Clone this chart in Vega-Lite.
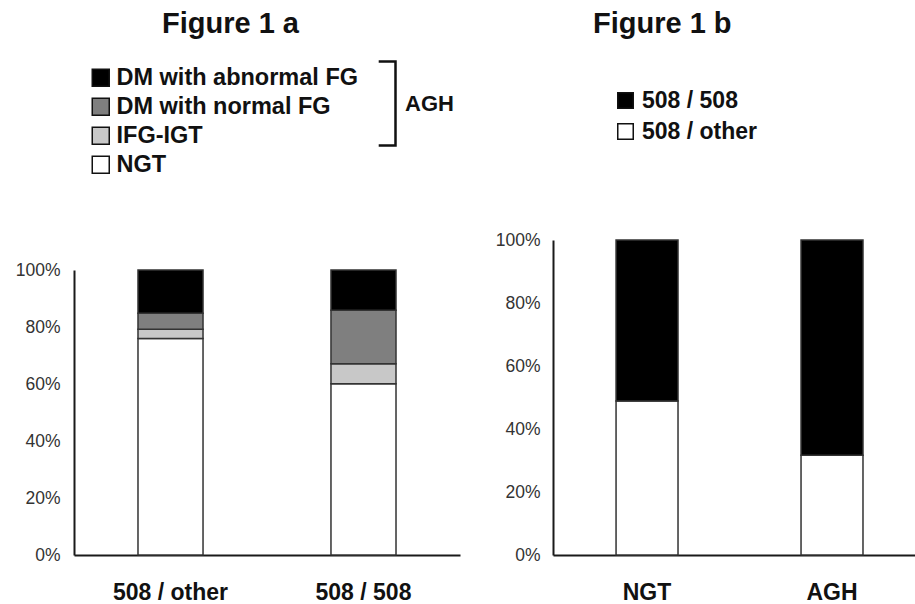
{
  "$schema": "https://vega.github.io/schema/vega-lite/v6.json",
  "autosize": {"type": "pad"},
  "padding": {"left": 15, "top": 10, "right": 0, "bottom": 5},
  "background": "white",
  "config": {
    "font": "Liberation Sans",
    "view": {"stroke": null},
    "axis": {"domainColor": "#1a1a1a", "domainWidth": 2, "ticks": false, "grid": false, "title": null},
    "legend": {"padding": 0, "orient": "none", "labelLimit": 0},
    "concat": {"spacing": 35}
  },
  "datasets": {
    "fig1a": [
      {"genotype": "508 / other", "group": "NGT", "class": "NGT", "percent": 76.0},
      {"genotype": "508 / other", "group": "IFG-IGT", "class": "AGH", "percent": 3.2},
      {"genotype": "508 / other", "group": "DM with normal FG", "class": "AGH", "percent": 5.6},
      {"genotype": "508 / other", "group": "DM with abnormal FG", "class": "AGH", "percent": 15.2},
      {"genotype": "508 / 508", "group": "NGT", "class": "NGT", "percent": 60.1},
      {"genotype": "508 / 508", "group": "IFG-IGT", "class": "AGH", "percent": 7.0},
      {"genotype": "508 / 508", "group": "DM with normal FG", "class": "AGH", "percent": 18.8},
      {"genotype": "508 / 508", "group": "DM with abnormal FG", "class": "AGH", "percent": 14.1}
    ],
    "fig1b": [
      {"status": "NGT", "genotype": "508 / other", "percent": 48.9},
      {"status": "NGT", "genotype": "508 / 508", "percent": 51.1},
      {"status": "AGH", "genotype": "508 / other", "percent": 31.7},
      {"status": "AGH", "genotype": "508 / 508", "percent": 68.3}
    ]
  },
  "resolve": {
    "scale": {"x": "independent", "y": "independent", "color": "independent", "shape": "independent"},
    "legend": {"color": "independent", "shape": "independent"}
  },
  "hconcat": [
    {
      "width": 386,
      "height": 315,
      "title": {"text": "Figure 1 a", "anchor": "start", "frame": "group", "dx": 88, "offset": 21, "fontSize": 29, "fontWeight": "bold", "color": "#111"},
      "data": {"name": "fig1a"},
      "layer": [
        {
          "mark": {"type": "bar", "stroke": "#333", "strokeWidth": 1.5},
          "encoding": {
            "x": {"field": "genotype", "type": "nominal", "sort": ["508 / other", "508 / 508"],
                  "scale": {"paddingInner": 0.663, "paddingOuter": 0.3316},
                  "axis": {"labelAngle": 0, "labelFontSize": 23, "labelFontWeight": "bold", "labelColor": "#111", "labelPadding": 26}},
            "y": {"field": "percent", "type": "quantitative", "stack": "zero",
                  "scale": {"domain": [0, 100], "rangeMax": 30},
                  "axis": {"values": [0, 20, 40, 60, 80, 100], "labelExpr": "datum.value + '%'", "labelFontSize": 17.5, "labelColor": "#333", "labelPadding": 14}},
            "color": {"field": "group", "type": "nominal",
                      "scale": {"domain": ["DM with abnormal FG", "DM with normal FG", "IFG-IGT", "NGT"], "range": ["#000000", "#7f7f7f", "#c8c8c8", "#ffffff"]},
                      "legend": {"title": null, "legendX": 15, "legendY": -174, "symbolType": "square", "symbolSize": 289, "symbolStrokeColor": "#111", "symbolStrokeWidth": 1.5, "labelFontSize": 23.5, "labelFontWeight": "bold", "labelColor": "#111", "labelOffset": 4, "rowPadding": 4}},
            "order": {"field": "group", "sort": "descending"}
          }
        },
        {
          "transform": [{"filter": "datum.class === 'AGH'"}],
          "mark": {"type": "point", "opacity": 0},
          "encoding": {
            "x": {"field": "genotype", "type": "nominal", "sort": ["508 / other", "508 / 508"]},
            "y": {"field": "percent", "type": "quantitative"},
            "shape": {"field": "class", "type": "nominal",
                      "scale": {"range": ["M0.6,-1H1V1H0.6"]},
                      "legend": {"title": null, "legendX": 236, "legendY": -180, "symbolSize": 7056, "symbolStrokeColor": "#111", "symbolStrokeWidth": 2.5, "symbolFillColor": "transparent", "symbolOpacity": 1, "labelFontSize": 22, "labelFontWeight": "bold", "labelColor": "#111", "labelOffset": 8}}
          }
        }
      ]
    },
    {
      "width": 362,
      "height": 315,
      "title": {"text": "Figure 1 b", "anchor": "start", "frame": "group", "dx": 40, "offset": 50, "fontSize": 29, "fontWeight": "bold", "color": "#111"},
      "data": {"name": "fig1b"},
      "mark": {"type": "bar", "stroke": "#333", "strokeWidth": 1.5},
      "encoding": {
        "x": {"field": "status", "type": "nominal", "sort": ["NGT", "AGH"],
              "scale": {"paddingInner": 0.665, "paddingOuter": 0.311, "align": 0.548},
              "axis": {"labelAngle": 0, "labelFontSize": 23, "labelFontWeight": "bold", "labelColor": "#111", "labelPadding": 26}},
        "y": {"field": "percent", "type": "quantitative", "stack": "zero",
              "scale": {"domain": [0, 100]},
              "axis": {"values": [0, 20, 40, 60, 80, 100], "labelExpr": "datum.value + '%'", "labelFontSize": 17.5, "labelColor": "#333", "labelPadding": 13}},
        "color": {"field": "genotype", "type": "nominal",
                  "scale": {"domain": ["508 / 508", "508 / other"], "range": ["#000000", "#ffffff"]},
                  "legend": {"title": null, "legendX": 61, "legendY": -151, "symbolType": "square", "symbolSize": 240, "symbolStrokeColor": "#111", "symbolStrokeWidth": 1.5, "labelFontSize": 23, "labelFontWeight": "bold", "labelColor": "#111", "labelOffset": 5, "rowPadding": 7}},
        "order": {"field": "genotype", "sort": "descending"}
      }
    }
  ]
}
